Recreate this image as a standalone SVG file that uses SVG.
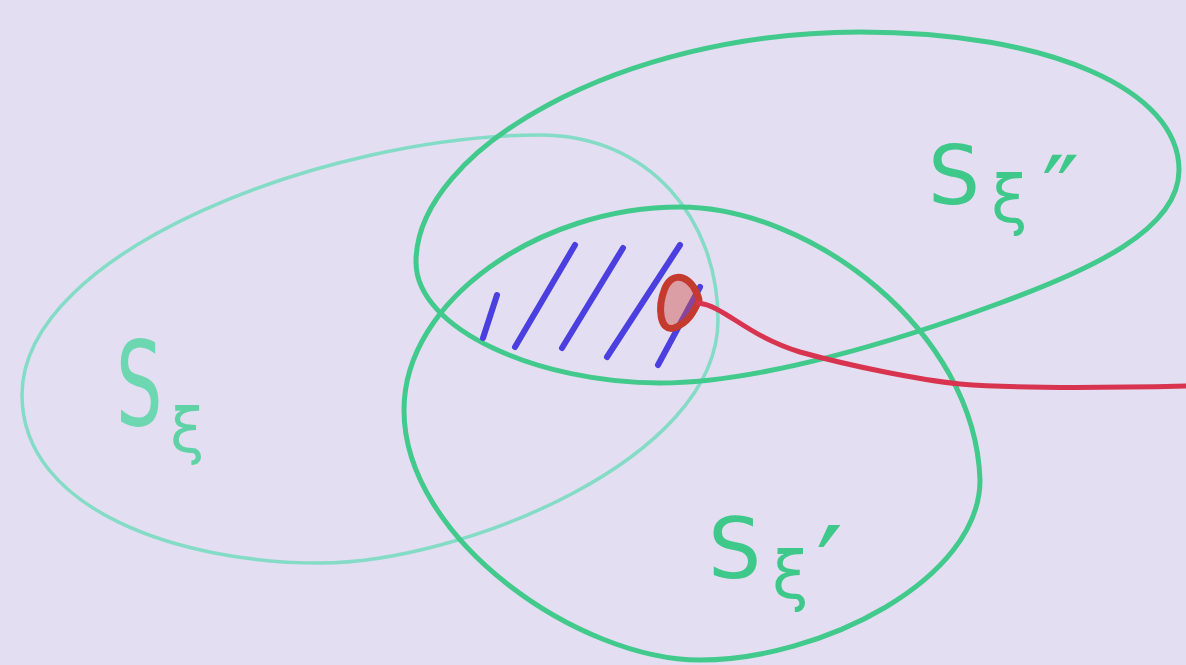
<svg xmlns="http://www.w3.org/2000/svg" width="1186" height="665" viewBox="0 0 1186 665">
  <style>
    .set { fill: none; stroke-linecap: round; stroke-linejoin: round; }
    .thick { stroke: #42c98c; stroke-width: 5; }
    .thin { stroke: #84dcc6; stroke-width: 3.5; }
    .hatch { stroke: #4b3fe0; stroke-width: 6; stroke-linecap: round; fill: none; }
    .lbl { font-family: "DejaVu Sans", "Liberation Sans", sans-serif; fill: #3ec98a; }
    .red { fill: none; stroke: #d8344f; stroke-width: 5; stroke-linecap: round; stroke-linejoin: round; }
  </style>
  <rect x="0" y="0" width="1186" height="665" fill="#e3def1"/>

  <g id="set-xi">
    <path class="set thin" d="M 22,395 C 22,250 330,135 540,135 C 650,135 718,220 718,320 C 718,460 460,563 320,563 C 180,563 22,510 22,395 Z"/>
    <text class="lbl" x="116" y="425" font-size="118" transform="translate(116,0) scale(0.62,1) translate(-116,0)" style="fill:#6dd7b2">S</text>
    <text class="lbl" x="170" y="452" font-size="62" style="fill:#5fd3a6">ξ</text>
  </g>

  <g id="set-xi-double-prime">
    <path class="set thick" d="M 416,262 C 416,150 620,32 860,32 C 1050,32 1179,90 1179,170 C 1179,230 1090,270 1000,303 C 900,340 760,383 660,383 C 540,383 416,330 416,262 Z"/>
    <text class="lbl" x="928" y="204" font-size="82">S<tspan x="991" y="222" font-size="66">ξ</tspan><tspan x="1042" y="228" font-size="100">″</tspan></text>
  </g>

  <g id="set-xi-prime">
    <path class="set thick" d="M 680,207 C 810,207 975,330 980,480 C 980,580 820,660 700,660 C 580,660 404,540 404,410 C 404,300 540,207 680,207 Z"/>
    <text class="lbl" x="708" y="578" font-size="84">S<tspan x="772" y="598" font-size="66">ξ</tspan><tspan x="816" y="612" font-size="120">′</tspan></text>
  </g>

  <g id="hatching">
    <line class="hatch" x1="497" y1="295" x2="483" y2="338" stroke-width="4.5"/>
    <line class="hatch" x1="575" y1="245" x2="515" y2="347"/>
    <line class="hatch" x1="623" y1="248" x2="562" y2="348"/>
    <line class="hatch" x1="680" y1="245" x2="607" y2="357"/>
    <line class="hatch" x1="700" y1="287" x2="658" y2="365"/>
  </g>

  <g id="connectors">
    <path d="M 699,300 C 694,278 674,268 665,288 C 657,308 660,332 674,328 C 688,323 694,312 699,300 Z" fill="#d0504a" fill-opacity="0.45" stroke="#c43a2e" stroke-width="7" stroke-linejoin="round"/>
    <path class="red" d="M 698,303 C 725,306 745,335 800,352 C 850,366 920,380 960,384 C 1020,389 1100,388 1186,386"/>
  </g>
</svg>
